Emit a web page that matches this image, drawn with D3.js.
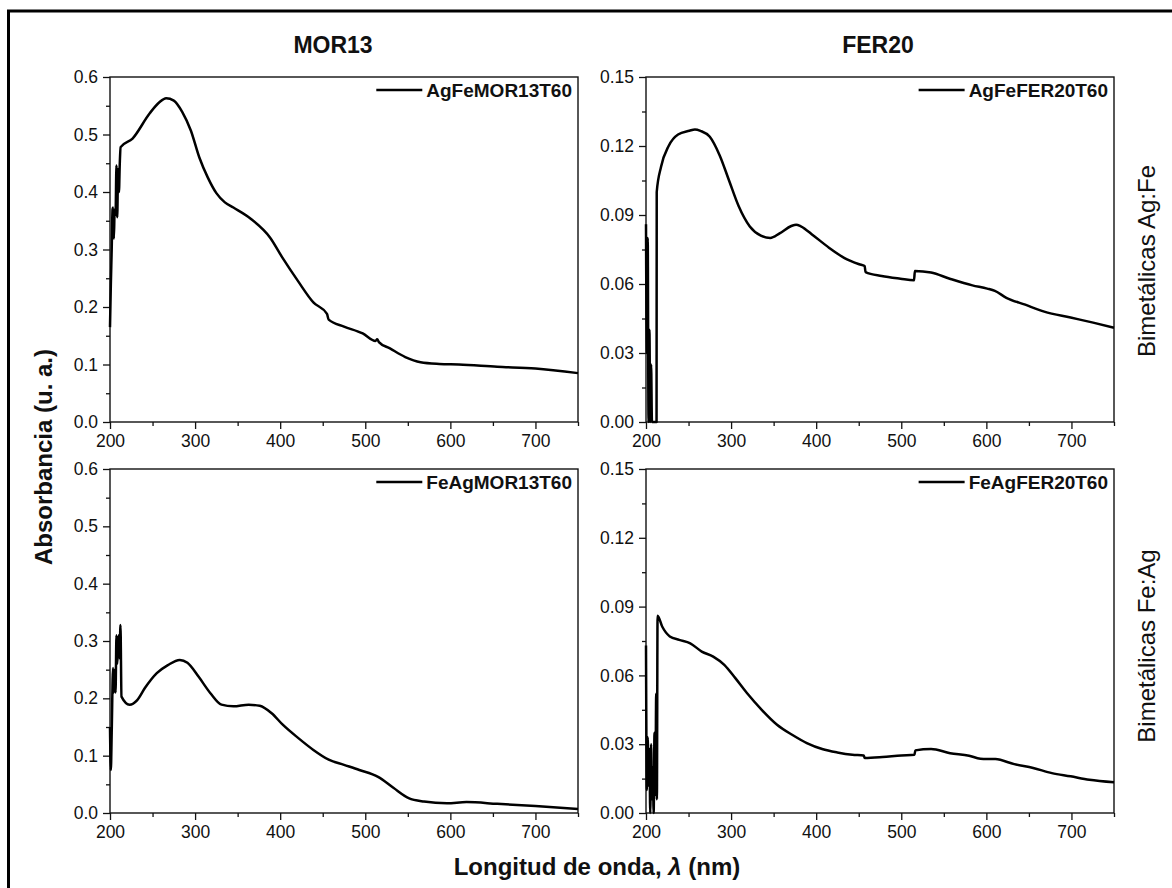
<!DOCTYPE html>
<html><head><meta charset="utf-8">
<script src="https://cdn.jsdelivr.net/npm/d3@7"></script>
<style>
body{margin:0;background:#fff}
svg{display:block}
text{font-family:"Liberation Sans",Arial,Helvetica,sans-serif;fill:#111}
</style></head>
<body><svg id="c" width="1172" height="888"></svg>
<script>
// ---------- data ----------
const xTicks = [200, 300, 400, 500, 600, 700];
const yTicksMOR = [0, 0.1, 0.2, 0.3, 0.4, 0.5, 0.6];
const yTicksFER = [0, 0.03, 0.06, 0.09, 0.12, 0.15];
const columnTitles = ["MOR13", "FER20"];
const rowLabels = ["Bimetálicas Ag:Fe", "Bimetálicas Fe:Ag"];
const seriesNames = ["AgFeMOR13T60", "AgFeFER20T60", "FeAgMOR13T60", "FeAgFER20T60"];

const wlAgFeMOR = [200, 201, 202, 203, 203.6, 204.5, 205.5, 206.5, 207.6, 208.5, 209.5, 210.5, 211.5, 212.5, 226.5, 246.7, 258, 266, 275, 285, 295, 305, 315, 325, 335, 345, 365, 388, 403, 421, 439, 455, 457, 475, 497, 512, 514, 516, 529, 547, 565, 587, 610, 655, 700, 750];
const absAgFeMOR = [0.165, 0.24, 0.30, 0.37, 0.373, 0.319, 0.37, 0.36, 0.446, 0.356, 0.44, 0.40, 0.45, 0.478, 0.493, 0.537, 0.556, 0.563, 0.559, 0.539, 0.507, 0.460, 0.425, 0.398, 0.382, 0.373, 0.354, 0.321, 0.285, 0.245, 0.208, 0.188, 0.178, 0.166, 0.154, 0.141, 0.144, 0.139, 0.128, 0.113, 0.104, 0.101, 0.100, 0.096, 0.093, 0.085];

const wlAgFeFER = [200, 201, 202, 203, 204, 205, 206, 207, 212.4, 212.6, 217.7, 226.6, 237.7, 251, 257.5, 264, 275, 286.5, 297.6, 308.7, 322, 335, 346, 357, 370.7, 376.5, 382, 397, 415, 432.8, 450.6, 457, 458, 477, 499, 515, 516, 535, 557, 583.6, 601, 610, 623.5, 645.7, 668, 699, 725.5, 750];
const absAgFeFER = [0.086, 0.03, 0.08, 0.0, 0.04, 0.0, 0.025, 0.0, 0.0, 0.100, 0.111, 0.120, 0.125, 0.1266, 0.1272, 0.1266, 0.124, 0.116, 0.105, 0.094, 0.085, 0.081, 0.080, 0.082, 0.0852, 0.0858, 0.0851, 0.081, 0.0758, 0.0714, 0.0686, 0.0678, 0.0652, 0.0635, 0.0623, 0.0616, 0.0657, 0.065, 0.0623, 0.0594, 0.058, 0.057, 0.054, 0.051, 0.048, 0.0454, 0.0432, 0.041];

const wlFeAgMOR = [200, 201, 202, 203.6, 204.5, 205.6, 206.5, 207.6, 208.4, 209.2, 210.2, 211.2, 212.3, 213.5, 223, 232, 241, 255, 268, 282, 291, 304, 318, 331, 345, 363, 376, 390, 403, 421, 439, 457, 475, 493, 515, 533, 551, 569, 596, 619, 655, 700, 750];
const absFeAgMOR = [0.15, 0.075, 0.14, 0.253, 0.21, 0.25, 0.21, 0.31, 0.26, 0.28, 0.31, 0.27, 0.328, 0.203, 0.189, 0.197, 0.218, 0.244, 0.258, 0.267, 0.262, 0.238, 0.209, 0.189, 0.186, 0.189, 0.187, 0.174, 0.154, 0.131, 0.110, 0.093, 0.084, 0.075, 0.063, 0.044, 0.026, 0.020, 0.017, 0.019, 0.016, 0.012, 0.007];

const wlFeAgFER = [200, 201, 202, 203, 204, 205, 206, 207, 208, 209, 210, 211, 212, 212.8, 213.6, 219, 228, 239, 252, 265.5, 279, 292, 305, 318.6, 336, 354, 371.7, 389, 407, 424.8, 442.5, 455.8, 457, 478, 500, 515.5, 516.5, 535, 557.5, 579.7, 593, 610.6, 632.8, 655, 677, 699, 721, 750];
const absFeAgFER = [0.073, 0.01, 0.033, 0.012, 0.028, 0.0, 0.03, 0.006, 0.02, 0.0, 0.035, 0.008, 0.052, 0.006, 0.086, 0.0813, 0.077, 0.0755, 0.074, 0.0704, 0.0682, 0.0646, 0.0588, 0.0523, 0.045, 0.0385, 0.0341, 0.0305, 0.0279, 0.0264, 0.0254, 0.0251, 0.024, 0.0244, 0.0251, 0.0254, 0.0273, 0.0279, 0.0261, 0.025, 0.0237, 0.0235, 0.0213, 0.0196, 0.0174, 0.016, 0.0145, 0.0134];

// ---------- layout ----------
const svg = d3.select("#c");
svg.append("rect").attr("width", 1172).attr("height", 888).attr("fill", "#fff");
svg.append("rect").attr("x", 8.5).attr("y", 11).attr("width", 1300).attr("height", 1000)
  .attr("fill", "none").attr("stroke", "#000").attr("stroke-width", 3);

const cols = [{x0: 110, x1: 578}, {x0: 646, x1: 1114}];
const rows = [{y0: 77, y1: 422}, {y0: 469, y1: 813}];

const panels = [
  {name: seriesNames[0], wl: wlAgFeMOR, ab: absAgFeMOR, c: 0, r: 0, yTicks: yTicksMOR, fmt: ".1f"},
  {name: seriesNames[1], wl: wlAgFeFER, ab: absAgFeFER, c: 1, r: 0, yTicks: yTicksFER, fmt: ".2f"},
  {name: seriesNames[2], wl: wlFeAgMOR, ab: absFeAgMOR, c: 0, r: 1, yTicks: yTicksMOR, fmt: ".1f"},
  {name: seriesNames[3], wl: wlFeAgFER, ab: absFeAgFER, c: 1, r: 1, yTicks: yTicksFER, fmt: ".2f"}
];

const mid = arr => arr.slice(1).map((v, i) => (v + arr[i]) / 2);

panels.forEach(p => {
  const {x0, x1} = cols[p.c];
  const {y0, y1} = rows[p.r];
  const x = d3.scaleLinear().domain([200, 750]).range([x0, x1]);
  const y = d3.scaleLinear().domain([0, p.yTicks[p.yTicks.length - 1]]).range([y1, y0]);
  const g = svg.append("g");

  // minor ticks
  const xMinor = mid(xTicks.concat([800])).filter(v => v <= 750);
  const yMinor = mid(p.yTicks);
  g.append("g").attr("transform", `translate(0,${y1})`)
    .call(d3.axisBottom(x).tickValues(xMinor).tickSize(4).tickFormat(""))
    .call(s => s.select(".domain").remove());
  g.append("g").attr("transform", `translate(${x0},0)`)
    .call(d3.axisLeft(y).tickValues(yMinor).tickSize(4).tickFormat(""))
    .call(s => s.select(".domain").remove());

  // major ticks
  const ax = g.append("g").attr("transform", `translate(0,${y1})`)
    .call(d3.axisBottom(x).tickValues(xTicks).tickSize(7).tickPadding(6));
  const ay = g.append("g").attr("transform", `translate(${x0},0)`)
    .call(d3.axisLeft(y).tickValues(p.yTicks).tickSize(7).tickPadding(5).tickFormat(d3.format(p.fmt)));
  [ax, ay].forEach(a => {
    a.select(".domain").remove();
    a.attr("font-family", null).attr("font-size", null);
    a.selectAll("text").attr("font-size", 17.5).attr("fill", "#111");
  });
  g.selectAll(".tick line").attr("stroke", "#111").attr("stroke-width", 1.3);

  // frame
  g.append("rect").attr("x", x0).attr("y", y0).attr("width", x1 - x0).attr("height", y1 - y0)
    .attr("fill", "none").attr("stroke", "#111").attr("stroke-width", 1.4);

  // curve
  const pts = p.wl.map((w, i) => [w, p.ab[i]]);
  g.append("path").datum(pts)
    .attr("d", d3.line().x(d => x(d[0])).y(d => y(d[1])).curve(d3.curveMonotoneX))
    .attr("fill", "none").attr("stroke", "#000").attr("stroke-width", 2.5)
    .attr("stroke-linejoin", "round");

  // legend
  const lt = g.append("text").attr("x", x1 - 6).attr("y", y0 + 20).attr("text-anchor", "end")
    .attr("font-size", 19).attr("font-weight", "bold").text(p.name);
  const tw = lt.node().getComputedTextLength();
  g.append("line").attr("x1", x1 - 6 - tw - 50).attr("x2", x1 - 6 - tw - 4)
    .attr("y1", y0 + 13).attr("y2", y0 + 13).attr("stroke", "#000").attr("stroke-width", 2.5);
});

// column titles
const titleX = [333, 878];
columnTitles.forEach((t, i) => {
  svg.append("text").attr("x", titleX[i]).attr("y", 53).attr("text-anchor", "middle")
    .attr("font-size", 23).attr("font-weight", "bold").text(t);
});

// row labels
const rowLabelY = [261, 646];
rowLabels.forEach((t, i) => {
  svg.append("text").attr("transform", `translate(1146,${rowLabelY[i]}) rotate(-90)`)
    .attr("text-anchor", "middle").attr("dominant-baseline", "central")
    .attr("font-size", 24).text(t);
});

// axis titles
svg.append("text").attr("transform", "translate(43,457) rotate(-90)")
  .attr("text-anchor", "middle").attr("dominant-baseline", "central")
  .attr("font-size", 24).attr("font-weight", "bold").text("Absorbancia (u. a.)");

const xt = svg.append("text").attr("x", 597).attr("y", 875).attr("text-anchor", "middle")
  .attr("font-size", 24).attr("font-weight", "bold");
xt.append("tspan").text("Longitud de onda, ");
xt.append("tspan").attr("font-style", "italic").text("λ");
xt.append("tspan").text(" (nm)");
</script>
</body></html>
